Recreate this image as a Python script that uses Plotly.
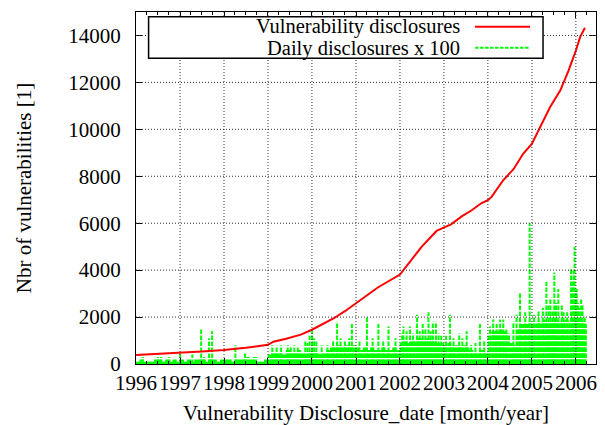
import plotly.graph_objects as go
import pandas as pd

# ---------------- data ----------------
# cumulative number of vulnerability disclosures
cum_dates = ["1996-01-01", "1996-07-01", "1997-01-01", "1997-07-01", "1998-01-01",
             "1998-07-01", "1999-01-01", "1999-02-15", "1999-06-01", "1999-10-01",
             "2000-01-01", "2000-04-01", "2000-07-01", "2000-10-01", "2001-01-01",
             "2001-07-01", "2002-01-01", "2002-04-01", "2002-07-01", "2002-11-01",
             "2003-01-01", "2003-03-01", "2003-06-01", "2003-08-20", "2003-11-10",
             "2004-01-01", "2004-02-01", "2004-05-07", "2004-08-01", "2004-10-20",
             "2005-01-01", "2005-03-15", "2005-06-01", "2005-08-25", "2005-11-01",
             "2006-01-01", "2006-02-05", "2006-03-17"]
cum_values = [380, 420, 470, 530, 600,
              690, 820, 950, 1080, 1250,
              1460, 1700, 1950, 2250, 2580,
              3260, 3810, 4420, 5000, 5670,
              5800, 5950, 6300, 6550, 6860,
              6980, 7120, 7830, 8300, 8960,
              9390, 10170, 10950, 11660, 12500,
              13360, 13930, 14330]

# typical daily disclosures x 100, one value per month from Jan 1996 to Mar 2006
daily_start = "1996-01-01"
daily_typical = [
    100, 200, 100, 100, 100, 200, 200, 100, 200, 100, 200, 100,   # 1996
    200, 100, 200, 100, 200, 200, 200, 100, 200, 200, 100, 200,   # 1997
    200, 200, 100, 200, 200, 200, 300, 200, 300, 100, 100, 200,   # 1998
    400, 500, 500, 500, 400, 600, 500, 500, 600, 500, 400, 500,   # 1999
    500, 500, 400, 500, 600, 700, 700, 800, 700, 800, 700, 800,   # 2000
    700, 600, 700, 600, 700, 600, 600, 700, 600, 600, 700, 600,   # 2001
    900, 1000, 900, 1000, 1000, 1100, 1000, 1100, 1000, 1000, 900, 900,  # 2002
    800, 900, 700, 800, 700, 800, 700, 600, 500, 500, 600, 500,   # 2003
    1200, 1400, 1400, 1500, 1400, 1300, 900, 800, 1500, 1700, 1700, 1800,  # 2004
    1700, 1800, 1800, 1900, 1800, 1800, 1900, 1800, 1800, 1900, 1800, 1800,  # 2005
    1800, 1800, 1700,                                              # 2006
]

# individual busy days (daily disclosures x 100)
peak_dates = ["1996-02-25", "1996-07-01", "1996-07-30", "1996-10-04", "1997-01-02",
              "1997-04-13", "1997-06-25", "1997-07-20", "1997-08-29", "1997-09-24",
              "1998-04-05", "1998-06-25", "1999-04-20", "1999-06-14", "1999-08-08",
              "1999-11-07", "1999-12-13", "2000-01-03", "2000-02-07", "2000-07-28",
              "2000-11-28", "2001-04-02", "2001-07-06", "2001-09-28", "2002-01-30",
              "2002-03-26", "2002-05-23", "2002-07-09", "2002-08-26", "2002-10-01",
              "2002-10-27", "2002-12-10", "2003-02-21", "2003-05-08", "2003-07-09",
              "2003-10-27", "2004-02-14", "2004-04-12", "2004-05-08", "2004-07-31",
              "2004-09-24", "2004-12-13", "2005-02-25", "2005-05-01", "2005-06-03",
              "2005-07-06", "2005-08-08", "2005-09-21", "2005-11-22", "2005-12-21",
              "2006-01-08", "2006-02-14", "2006-03-15"]
peak_values = [300, 300, 300, 300, 500,
               400, 1500, 300, 1100, 1400,
               800, 500, 800, 800, 800,
               1000, 1200, 1400, 1000, 1800,
               1700, 2000, 1700, 1600, 1600,
               1600, 2100, 1700, 2200, 1800,
               1800, 1200, 2100, 1300, 1400,
               1700, 1900, 1900, 1900, 1800,
               3000, 6000, 2300, 3500, 2800,
               3900, 3200, 2200, 4100, 5000,
               3200, 2800, 2000]

# moderately busy days (daily disclosures x 100)
busy_dates = ["1999-02-06", "1999-03-14", "1999-07-09", "1999-09-06", "1999-11-25",
              "2000-01-20", "2000-03-22", "2000-05-09", "2000-06-25", "2000-08-26",
              "2000-10-01", "2000-11-06", "2001-01-30", "2001-05-19", "2001-08-15",
              "2001-11-25", "2002-01-19", "2002-02-25", "2002-04-20", "2002-06-14",
              "2002-07-31", "2002-09-13", "2002-11-18", "2003-01-19", "2003-03-22",
              "2003-06-03", "2003-08-15", "2003-09-20", "2003-12-02", "2004-01-19",
              "2004-03-14", "2004-06-03", "2004-08-26", "2004-11-06", "2005-01-19",
              "2005-04-02", "2005-05-19", "2005-06-21", "2005-07-20", "2005-09-06",
              "2005-10-20", "2005-12-06", "2005-12-13", "2006-01-01", "2006-01-19",
              "2006-01-30", "2006-02-25"]
busy_values = [800, 700, 700, 700, 900,
               1100, 800, 800, 1000, 1100,
               1000, 1100, 1000, 1100, 1000,
               1100, 1300, 1400, 1300, 1400,
               1500, 1400, 1300, 1200, 1100,
               1100, 800, 900, 1000, 1600,
               1700, 1500, 2100, 2200, 2100,
               2400, 2500, 2300, 2600, 2500,
               2200, 3500, 4000, 3000, 2600,
               2400, 2500]

year_ticks = [str(y) for y in range(1996, 2007)]
y_ticks = list(range(0, 15000, 2000))

# ---------------- build figure ----------------
month_x = pd.date_range(daily_start, periods=len(daily_typical), freq="MS") + pd.Timedelta(days=15)


def impulses(xs, ys):
    X, Y = [], []
    for x, y in zip(xs, ys):
        X += [x, x, None]
        Y += [0, y, None]
    return X, Y


GREEN = "#00ff00"
RED = "#ff0000"
DASH = "4.5px,1.5px"
FS = 21

fig = go.Figure()

mx, my = impulses(list(month_x), daily_typical)
fig.add_trace(go.Scatter(x=mx, y=my, mode="lines", connectgaps=False,
                         line=dict(color=GREEN, width=4.2, dash=DASH),
                         hoverinfo="skip", name="Daily disclosures x 100"))
bx, by = impulses([pd.Timestamp(d) for d in busy_dates], busy_values)
fig.add_trace(go.Scatter(x=bx, y=by, mode="lines", connectgaps=False,
                         line=dict(color=GREEN, width=2, dash=DASH),
                         hoverinfo="skip", showlegend=False))
px_, py_ = impulses([pd.Timestamp(d) for d in peak_dates], peak_values)
fig.add_trace(go.Scatter(x=px_, y=py_, mode="lines", connectgaps=False,
                         line=dict(color=GREEN, width=2, dash=DASH),
                         hoverinfo="skip", showlegend=False))
fig.add_trace(go.Scatter(x=cum_dates, y=cum_values, mode="lines",
                         line=dict(color=RED, width=2),
                         name="Vulnerability disclosures"))

# the page has an 8px body margin: figure pixel = window pixel - 8
OFF = 8
W, H = 605 - OFF, 425 - OFF
# plot area in window pixels: x 135.7..596, y 12..364
L, R, T, B = 135.7 - OFF, 596.0 - OFF, 12.0 - OFF, 364.0 - OFF


def pxx(p):
    return (p - OFF - L) / (R - L)


def pxy(p):
    return (B - (p - OFF)) / (B - T)


GRID = dict(color="#333", width=1, dash="1px,2px")
shapes = []
# grid drawn in front of the data, as in the original
for yr in year_ticks[1:]:
    shapes.append(dict(type="line", xref="x", yref="paper", x0=f"{yr}-01-01", x1=f"{yr}-01-01",
                       y0=0, y1=1, line=GRID, layer="above"))
for yv in y_ticks[1:]:
    shapes.append(dict(type="line", xref="paper", yref="y", x0=0, x1=1, y0=yv, y1=yv,
                       line=GRID, layer="above"))
shapes += [
    dict(type="rect", xref="paper", yref="paper",
         x0=pxx(148.3), x1=pxx(543), y0=pxy(58.3), y1=pxy(16.7),
         line=dict(color="black", width=1.5), fillcolor="white", layer="above"),
    dict(type="line", xref="paper", yref="paper",
         x0=pxx(475), x1=pxx(530), y0=pxy(26.7), y1=pxy(26.7),
         line=dict(color=RED, width=2), layer="above"),
    dict(type="line", xref="paper", yref="paper",
         x0=pxx(475), x1=pxx(530), y0=pxy(47.7), y1=pxy(47.7),
         line=dict(color=GREEN, width=2, dash="3.5px,1.5px"), layer="above"),
]
annotations = [
    dict(xref="paper", yref="paper", x=pxx(462), y=pxy(27), text="Vulnerability disclosures",
         showarrow=False, xanchor="right", yanchor="middle",
         font=dict(size=20.5, color="black")),
    dict(xref="paper", yref="paper", x=pxx(462), y=pxy(48.5), text="Daily disclosures x 100",
         showarrow=False, xanchor="right", yanchor="middle",
         font=dict(size=20.5, color="black")),
]

fig.update_layout(
    width=W, height=H,
    margin=dict(l=L, r=W - R, t=T, b=H - B, autoexpand=False),
    plot_bgcolor="white", paper_bgcolor="white",
    font=dict(family="Liberation Serif", size=FS, color="black"),
    showlegend=False,
    shapes=shapes, annotations=annotations,
)
fig.update_xaxes(
    type="date", range=["1996-01-01", "2006-06-17"],
    tickvals=[f"{y}-01-01" for y in year_ticks], ticktext=year_ticks, tickangle=0,
    showgrid=False,
    showline=True, linecolor="black", linewidth=1.3, mirror="ticks",
    ticks="inside", ticklen=6, tickcolor="black",
    minor=dict(dtick="M3", tick0="1996-01-01", ticks="inside", ticklen=3, tickcolor="black", showgrid=False),
    zeroline=False, automargin=False,
    title=dict(text="Vulnerability Disclosure_date [month/year]", standoff=11, font=dict(size=FS)),
)
fig.update_yaxes(
    range=[0, 15000], tickvals=y_ticks, tickformat="d",
    showgrid=False,
    showline=True, linecolor="black", linewidth=1.3, mirror="ticks",
    ticks="inside", ticklen=6, tickcolor="black", ticklabelstandoff=10,
    zeroline=False, automargin=False,
    title=dict(text="Nbr of vulnerabilities [1]", standoff=30, font=dict(size=FS)),
)

fig.write_html("out.html")
